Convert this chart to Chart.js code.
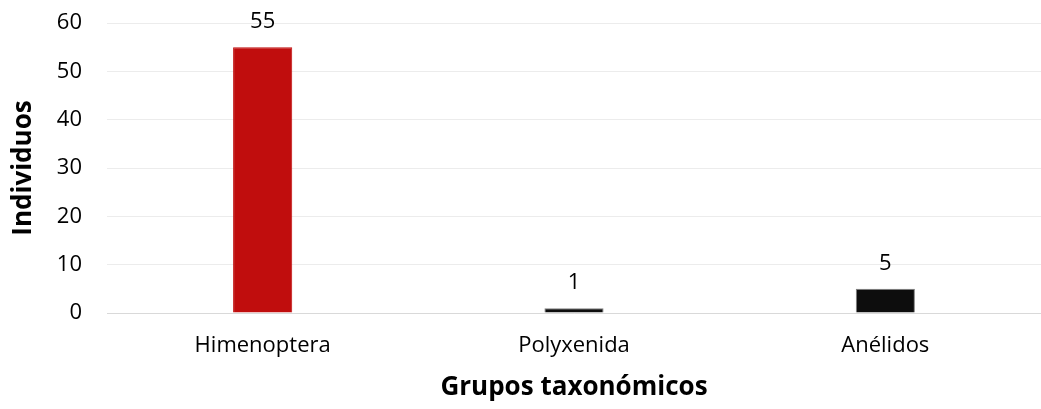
<!DOCTYPE html>
<html>
<head>
<meta charset="utf-8">
<script src="https://cdn.jsdelivr.net/npm/chart.js@4/dist/chart.umd.min.js"></script>
<style>
    html, body { margin: 0; padding: 0; background: #fff; }
    #wrap { width: 1041px; height: 409px; }
</style>
</head>
<body>
<div id="wrap"><canvas id="grupoChart" width="1041" height="409"></canvas></div>
<script>
// datos
const grupos     = ['Himenoptera', 'Polyxenida', 'Anélidos'];
const individuos = [55, 1, 5];
const yTicks     = [0, 10, 20, 30, 40, 50, 60];

const FONT = "'Open Sans', 'Noto Sans', sans-serif";

// etiquetas de valor encima de cada barra
const valueLabels = {
    id: 'valueLabels',
    afterDatasetsDraw(chart) {
        const ctx = chart.ctx;
        const meta = chart.getDatasetMeta(0);
        ctx.save();
        ctx.font = '22px ' + FONT;
        ctx.fillStyle = '#000';
        ctx.textAlign = 'center';
        ctx.textBaseline = 'middle';
        meta.data.forEach((bar, i) => {
            ctx.fillText(individuos[i], bar.x, bar.y - 25);
        });
        ctx.restore();
    }
};

new Chart(document.getElementById('grupoChart').getContext('2d'), {
    type: 'bar',
    data: {
        labels: grupos,
        datasets: [{
            data: individuos,
            backgroundColor: ['#C00D0D', '#0D0D0D', '#0D0D0D'],
            borderColor: ['#C00D0D', '#808080', '#808080'],
            borderWidth: 1,
            barPercentage: 0.19,
            categoryPercentage: 1
        }]
    },
    options: {
        responsive: false,
        animation: false,
        layout: { padding: { top: 23, right: 0, left: 0, bottom: 0 } },
        plugins: { legend: { display: false }, tooltip: { enabled: false } },
        scales: {
            x: {
                grid: { display: false, drawTicks: false },
                border: { color: '#d9d9d9', width: 1 },
                ticks: { color: '#000', font: { family: FONT, size: 22 }, padding: 20 },
                title: {
                    display: true, text: 'Grupos taxonómicos', color: '#000',
                    font: { family: FONT, size: 26, weight: 'bold' }, padding: { top: 0, bottom: 6 }
                },
                afterFit(scale) { scale.height = 96; }
            },
            y: {
                min: 0, max: 60,
                afterBuildTicks(scale) { scale.ticks = yTicks.map(v => ({ value: v })); },
                // marcas invisibles para separar las etiquetas del área
                grid: { color: '#ececec', drawTicks: true, tickLength: 25, tickColor: 'rgba(0,0,0,0)' },
                border: { display: false },
                ticks: { color: '#000', font: { family: FONT, size: 22 }, padding: 0 },
                title: {
                    display: true, text: 'Individuos', color: '#000',
                    font: { family: FONT, size: 26, weight: 'bold' }, padding: { top: 8, bottom: 0 }
                },
                afterFit(scale) { scale.width = 107; }
            }
        }
    },
    plugins: [valueLabels]
});
</script>
</body>
</html>
